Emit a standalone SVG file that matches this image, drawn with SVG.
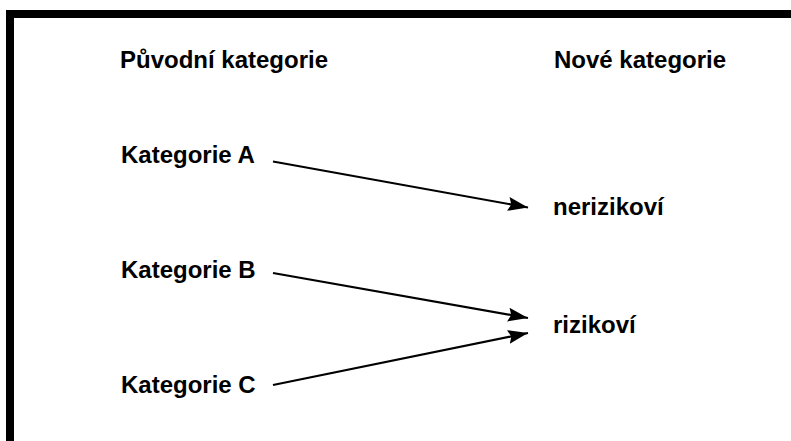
<svg xmlns="http://www.w3.org/2000/svg" width="791" height="441" viewBox="0 0 791 441">
  <style>
    .t { font-family: "Liberation Sans", Arial, sans-serif; font-weight: bold; font-size: 24px; fill: #000; }
    .c { stroke: #000; stroke-width: 2.2; fill: none; }
  </style>
  <defs>
    <marker id="ah" markerUnits="userSpaceOnUse" markerWidth="22" markerHeight="16" refX="20" refY="7" orient="auto" viewBox="0 0 22 14">
      <path d="M0,0 L20,7 L0,14 L3,7 Z" fill="#000"/>
    </marker>
  </defs>
  <rect x="0" y="0" width="791" height="441" fill="#fff"/>
  <rect id="frame" x="10" y="14" width="800" height="440" fill="none" stroke="#000" stroke-width="8"/>
  <g id="headers">
    <text class="t" x="120" y="68">Původní kategorie</text>
    <text class="t" x="554" y="68">Nové kategorie</text>
  </g>
  <g id="katA"><text class="t" x="121" y="163">Kategorie A</text></g>
  <g id="katB"><text class="t" x="121" y="278">Kategorie B</text></g>
  <g id="katC"><text class="t" x="121" y="393">Kategorie C</text></g>
  <g id="nerizikovi"><text class="t" x="553" y="215">nerizikoví</text></g>
  <g id="rizikovi"><text class="t" x="553" y="333">rizikoví</text></g>
  <g id="connectors">
    <line class="c" x1="273" y1="161.5" x2="528" y2="207.5" marker-end="url(#ah)"/>
    <line class="c" x1="273" y1="273" x2="528" y2="318" marker-end="url(#ah)"/>
    <line class="c" x1="273" y1="385" x2="528" y2="333" marker-end="url(#ah)"/>
  </g>
</svg>
